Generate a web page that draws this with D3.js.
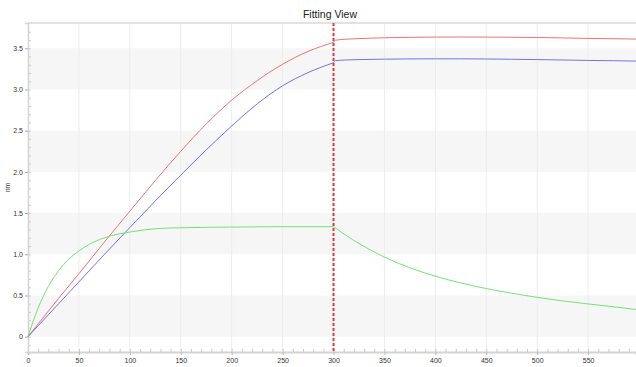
<!DOCTYPE html>
<html>
<head>
<meta charset="utf-8">
<script src="https://cdn.jsdelivr.net/npm/d3@7"></script>
<style>
  body { margin: 0; background: #fff; }
  svg { display: block; font-family: Arial, "Liberation Sans", sans-serif; }
</style>
</head>
<body>
<div id="graph"></div>
<script>
// association phase sample times (s)
const assocTimes = [0, 10, 20, 30, 40, 50, 60, 75, 100, 125, 150, 175, 200, 225, 250, 275, 300];
// dissociation phase sample times (s)
const dissocTimes = [300, 302, 312, 325, 350, 375, 400, 425, 450, 475, 500, 525, 550, 575, 597];

// response (nm)
const redAssoc = [0, 0.155, 0.31, 0.465, 0.615, 0.765, 0.918, 1.148, 1.523, 1.895, 2.25, 2.582, 2.87, 3.107, 3.307, 3.462, 3.572];
const redDissoc = [3.572, 3.598, 3.61, 3.618, 3.628, 3.633, 3.636, 3.637, 3.636, 3.634, 3.631, 3.626, 3.62, 3.616, 3.612];
const blueAssoc = [0, 0.133, 0.266, 0.399, 0.532, 0.665, 0.798, 0.998, 1.325, 1.647, 1.962, 2.267, 2.557, 2.825, 3.045, 3.205, 3.325];
const blueDissoc = [3.325, 3.35, 3.358, 3.363, 3.368, 3.371, 3.372, 3.372, 3.37, 3.367, 3.363, 3.358, 3.353, 3.349, 3.345];
const greenAssoc = [0, 0.35, 0.61, 0.80, 0.94, 1.04, 1.12, 1.20, 1.27, 1.31, 1.322, 1.327, 1.33, 1.333, 1.335, 1.335, 1.335];
const greenDissoc = [1.335, 1.318, 1.232, 1.131, 0.966, 0.836, 0.734, 0.652, 0.584, 0.527, 0.477, 0.434, 0.397, 0.363, 0.33];

const xTicks = [0, 50, 100, 150, 200, 250, 300, 350, 400, 450, 500, 550];
const yTicks = [0, 0.5, 1.0, 1.5, 2.0, 2.5, 3.0, 3.5];
const bands = [[0, 0.5], [1.0, 1.5], [2.0, 2.5], [3.0, 3.5]];
const switchTime = 300;

const series = [
  {name: 'red', times: assocTimes, values: redAssoc, color: '#f07272'},
  {name: 'red', times: dissocTimes, values: redDissoc, color: '#f07272'},
  {name: 'blue', times: assocTimes, values: blueAssoc, color: '#7272f0'},
  {name: 'blue', times: dissocTimes, values: blueDissoc, color: '#7272f0'},
  {name: 'green', times: assocTimes, values: greenAssoc, color: '#72e472'},
  {name: 'green', times: dissocTimes, values: greenDissoc, color: '#72e472'}
];

let vis = {};
vis.width = 636;
vis.height = 367;
vis.margin = {top: 23, right: 0, bottom: 15, left: 28};
vis.innerW = vis.width - vis.margin.left - vis.margin.right;
vis.innerH = vis.height - vis.margin.top - vis.margin.bottom;

vis.xScale = d3.scaleLinear().domain([0, 597]).range([0, vis.innerW]);
vis.yScale = d3.scaleLinear().domain([-0.186, 3.807]).range([vis.innerH, 0]);

vis.svg = d3.select('#graph').append('svg')
  .attr('width', vis.width)
  .attr('height', vis.height);

// title
vis.svg.append('text')
  .attr('x', 330).attr('y', 18)
  .attr('text-anchor', 'middle')
  .attr('font-size', 10.5)
  .attr('fill', '#222')
  .text('Fitting View');

// y label
vis.svg.append('text')
  .attr('transform', 'translate(10,' + (vis.margin.top + vis.innerH / 2) + ') rotate(-90)')
  .attr('text-anchor', 'middle')
  .attr('font-size', 7)
  .attr('fill', '#333')
  .text('nm');

// x label, clipped by the window bottom as in the original
vis.svg.append('text')
  .attr('x', 332).attr('y', 372)
  .attr('text-anchor', 'middle')
  .attr('font-size', 7)
  .attr('fill', '#333')
  .text('Time (s)');

let g = vis.svg.append('g')
  .attr('transform', 'translate(' + vis.margin.left + ',' + vis.margin.top + ')');

// alternating bands
g.selectAll('.band')
  .data(bands)
  .enter().append('rect')
  .attr('class', 'band')
  .attr('x', 0)
  .attr('width', vis.innerW)
  .attr('y', d => vis.yScale(d[1]))
  .attr('height', d => vis.yScale(d[0]) - vis.yScale(d[1]))
  .attr('fill', '#f6f6f6');

// vertical grid
g.selectAll('.vgrid')
  .data(xTicks.filter(d => d > 0))
  .enter().append('line')
  .attr('class', 'vgrid')
  .attr('x1', d => vis.xScale(d)).attr('x2', d => vis.xScale(d))
  .attr('y1', 0).attr('y2', vis.innerH)
  .attr('stroke', '#ececec')
  .attr('stroke-width', 1);

// top border
g.append('line')
  .attr('x1', 0).attr('x2', vis.innerW)
  .attr('y1', 0).attr('y2', 0)
  .attr('stroke', '#e2e2e2')
  .attr('stroke-width', 2);

// x axis
let xAxis = g.append('g')
  .attr('transform', 'translate(0,' + vis.innerH + ')')
  .call(d3.axisBottom(vis.xScale).tickValues(xTicks).tickSize(3).tickPadding(3).tickFormat(d3.format('d')));
xAxis.select('.domain').attr('stroke', '#d4d4d4').attr('stroke-width', 2);
xAxis.selectAll('.tick line').attr('stroke', '#bbb');
xAxis.selectAll('.tick text').attr('font-size', 7).attr('fill', '#333');

// x minor ticks (inside)
g.append('g')
  .attr('transform', 'translate(0,' + vis.innerH + ')')
  .call(d3.axisTop(vis.xScale).tickValues(d3.range(10, 597, 10)).tickSize(3).tickFormat(''))
  .call(s => s.select('.domain').remove())
  .selectAll('line').attr('stroke', '#c8c8c8');

// y axis
let yAxis = g.append('g')
  .call(d3.axisLeft(vis.yScale).tickValues(yTicks).tickSize(3).tickPadding(2)
    .tickFormat(d => d === 0 ? '0' : d3.format('.1f')(d)));
yAxis.select('.domain').attr('stroke', '#d4d4d4').attr('stroke-width', 1.5);
yAxis.selectAll('.tick line').attr('stroke', '#aaa');
yAxis.selectAll('.tick text').attr('font-size', 7).attr('fill', '#333');

// y minor ticks (inside)
g.append('g')
  .call(d3.axisRight(vis.yScale).tickValues(d3.range(-1, 38, 1).map(d => d / 10)).tickSize(3).tickFormat(''))
  .call(s => s.select('.domain').remove())
  .selectAll('line').attr('stroke', '#cfcfcf');

// curves, one path per phase
g.selectAll('.curve')
  .data(series)
  .enter().append('path')
  .attr('class', 'curve')
  .attr('fill', 'none')
  .attr('stroke', d => d.color)
  .attr('stroke-width', 1)
  .attr('d', d => d3.line()
    .x((v, i) => vis.xScale(d.times[i]))
    .y(v => vis.yScale(v))
    .curve(d3.curveMonotoneX)(d.values));

// step marker
g.append('line')
  .attr('x1', vis.xScale(switchTime)).attr('x2', vis.xScale(switchTime))
  .attr('y1', 0).attr('y2', vis.innerH)
  .attr('stroke', '#e43a3a')
  .attr('stroke-width', 2)
  .attr('stroke-dasharray', '3,2');
</script>
</body>
</html>
